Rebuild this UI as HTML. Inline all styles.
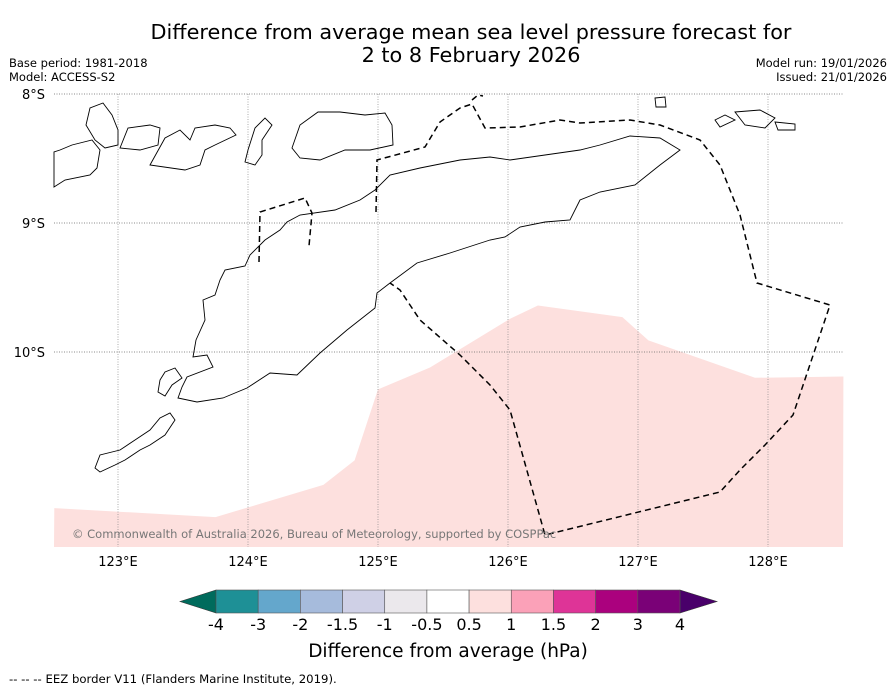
<!DOCTYPE html>
<html><head><meta charset="utf-8"><style>
body{margin:0;background:#fff;width:896px;height:690px;overflow:hidden;font-family:"Liberation Sans","DejaVu Sans",sans-serif}
svg text{font-family:"DejaVu Sans","Liberation Sans",sans-serif}
</style></head><body>
<svg width="896" height="690" id="chart">
<text x="471" y="39" font-size="20.8" text-anchor="middle">Difference from average mean sea level pressure forecast for</text>
<text x="471" y="62" font-size="20.8" text-anchor="middle">2 to 8 February 2026</text>
<text x="9" y="67" font-size="11.5">Base period: 1981-2018</text>
<text x="9" y="81" font-size="11.5">Model: ACCESS-S2</text>
<text x="887" y="67" font-size="11.5" text-anchor="end">Model run: 19/01/2026</text>
<text x="887" y="81" font-size="11.5" text-anchor="end">Issued: 21/01/2026</text>
<g id="map"></g>
<text x="72" y="538" font-size="11.5" fill="#777">© Commonwealth of Australia 2026, Bureau of Meteorology, supported by COSPPac</text>
<g id="cbar"></g>
<text x="448" y="657" font-size="18.5" text-anchor="middle">Difference from average (hPa)</text>
<text x="9" y="683" font-size="11.7">--  --  -- EEZ border V11 (Flanders Marine Institute, 2019).</text>
</svg>
<script>
const lonTicks=[123,124,125,126,127,128];
const latTicks=[8,9,10];
const anomLon=[122.51,123.75,124.58,124.82,125.0,125.40,126.02,126.23,126.88,127.08,127.90,128.58];
const anomLat=[11.21,11.28,11.03,10.84,10.29,10.12,9.74,9.64,9.73,9.91,10.20,10.19];
const cbarLabels=["-4","-3","-2","-1.5","-1","-0.5","0.5","1","1.5","2","3","4"];
const cbarColors=["#1e9096","#64a7cc","#a6bbdc","#cfd0e6","#ebe8ec","#ffffff","#fde0de","#fba1b8","#de3497","#ab017e","#7a0177"];
const NS="http://www.w3.org/2000/svg";
const x=lon=>118+(lon-123)*130, y=lat=>94+(lat-8)*129;
const X0=54,X1=843,Y0=94,Y1=547;
function mk(t,a,p){const e=document.createElementNS(NS,t);for(const k in a)e.setAttribute(k,a[k]);p.appendChild(e);return e;}
const map=document.getElementById('map');
let pts=anomLon.map((l,i)=>x(l)+','+y(anomLat[i]));
pts.push(X1+','+Y1,X0+','+Y1);
const poly=mk('polygon',{points:pts.join(' '),fill:'#fde0de'},map);


lonTicks.forEach(l=>{
 const g=mk('line',{x1:x(l),x2:x(l),y1:Y0,y2:Y1,stroke:'#888','stroke-width':0.7,'stroke-dasharray':'1,1.5'},map);
 
 
 const t=mk('text',{x:x(l),y:566,'font-size':13,'text-anchor':'middle'},map);t.textContent=l+'°E';
 
 
});
latTicks.forEach(l=>{
 const g=mk('line',{x1:X0,x2:X1,y1:y(l),y2:y(l),stroke:'#666','stroke-width':0.7,'stroke-dasharray':'1,1.5'},map);
 
 
 const t=mk('text',{x:45,y:y(l)+5,'font-size':13,'text-anchor':'end'},map);t.textContent=l+'°S';
 
 
});
const coasts=[
"193,357 196,340 205,320 203,300 215,295 220,280 225,270 245,266 250,255 265,240 280,230 287,222 300,215 335,210 360,200 375,190 390,175 420,168 460,160 490,157 510,160 545,155 580,150 600,145 630,136 660,138 680,150 660,165 635,185 600,192 580,200 570,220 545,222 520,227 505,237 490,240 450,253 417,263 390,283 377,293 375,308 347,330 320,353 297,375 270,373 247,388 223,398 197,402 178,398 182,387 187,377 213,367 207,355",
"95,468 100,455 120,450 135,440 150,430 160,418 170,413 175,420 165,435 150,445 140,450 125,460 115,465 100,472",
"160,380 165,372 175,368 182,378 172,385 165,396 158,392",
"54,187 65,180 90,175 97,168 100,150 92,140 72,145 60,150 54,152",
"86,125 90,108 103,103 112,115 118,130 118,145 105,148 95,140",
"120,148 128,128 150,125 160,128 158,145 140,150",
"150,165 165,138 180,130 190,140 195,128 215,125 230,128 236,135 215,145 205,150 200,165 185,170",
"248,150 255,128 265,118 272,125 262,140 262,155 255,165 245,162",
"292,148 300,125 318,112 340,112 365,115 385,113 392,125 393,145 370,150 345,150 320,160 300,158",
"715,120 725,115 735,120 720,127",
"735,112 760,110 775,118 765,128 745,125",
"775,122 795,124 795,130 778,130",
"655,98 665,97 666,107 656,107"];
coasts.forEach(c=>{const p=mk('polygon',{points:c,fill:'none',stroke:'#000','stroke-width':0.9},map);
 
 });
const eez=["259,262 260,212 305,198 312,213 309,246",
"376,212 377,160 425,147 440,122 460,108 472,104 485,128 520,127 560,120 580,123 630,120 660,125 700,140 720,165 740,215 757,283 830,305 793,415 765,445 740,470 720,492 545,535 510,410 490,385 460,355 420,320 400,290 390,283",
"472,100 478,95 483,96"];
eez.forEach(c=>{const p=mk('polyline',{points:c,fill:'none',stroke:'#000','stroke-width':1.5,'stroke-dasharray':'6,4'},map);
 
 });
const cb=document.getElementById('cbar');
const L=216,R=680,T=590,B=613,w=(R-L)/cbarColors.length;
const tl=mk('polygon',{points:`180,601.5 ${L},${T} ${L},${B}`,fill:'#006b5c',stroke:'#333','stroke-width':0.6},cb);


const tr=mk('polygon',{points:`717,601.5 ${R},${T} ${R},${B}`,fill:'#49006a',stroke:'#333','stroke-width':0.6},cb);


cbarColors.forEach((c,i)=>{const r=mk('rect',{x:L+i*w,y:T,width:w,height:B-T,fill:c,stroke:'#555','stroke-width':0.6},cb);
 
 });
cbarLabels.forEach((s,i)=>{const t=mk('text',{x:L+i*w,y:630,'font-size':16,'text-anchor':'middle'},cb);t.textContent=s;
 
 });
</script>
</body></html>
